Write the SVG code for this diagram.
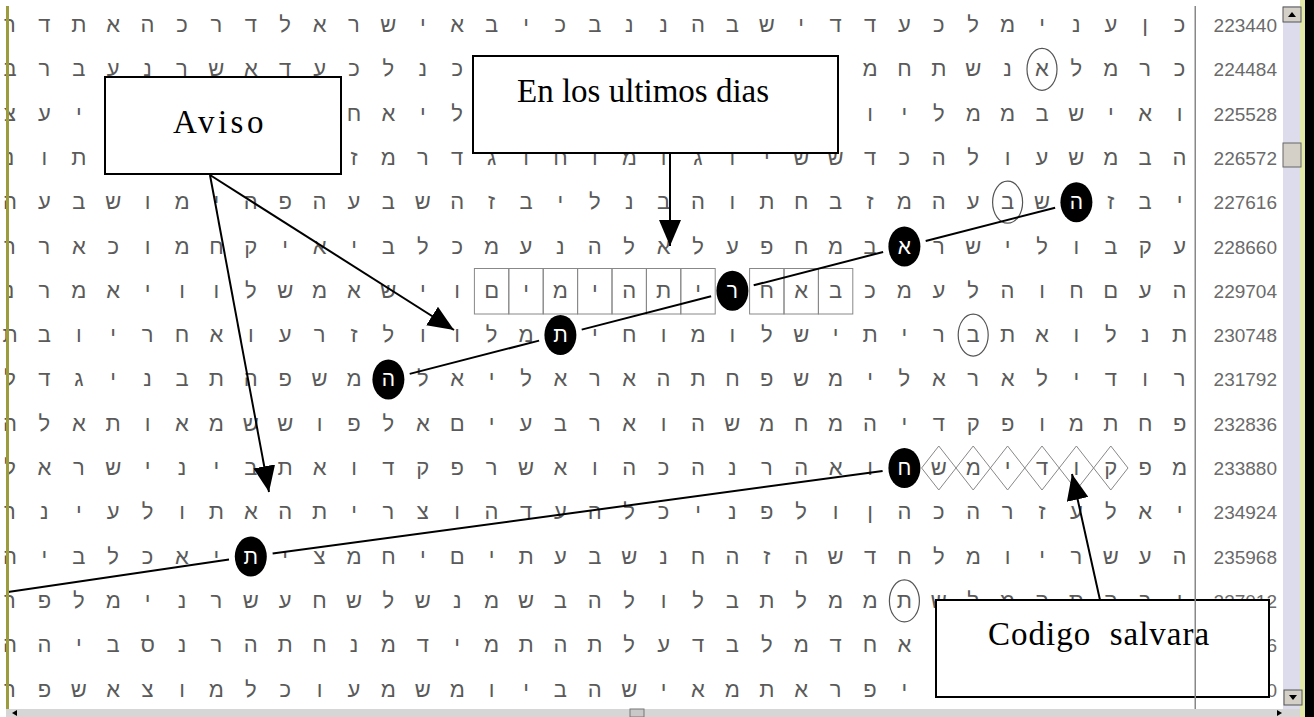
<svg xmlns="http://www.w3.org/2000/svg" width="1314" height="717" viewBox="0 0 1314 717">
<style>
.g{font-family:"Liberation Sans","DejaVu Sans",sans-serif;font-size:22px;fill:#5a5a5a;text-anchor:middle}
.w{font-family:"Liberation Sans","DejaVu Sans",sans-serif;font-size:21px;fill:#fff;text-anchor:middle}
.lab{font-family:"Liberation Sans","DejaVu Sans",sans-serif;font-size:19px;fill:#6a6a6a;text-anchor:end}
.cap{font-family:"Liberation Serif","DejaVu Serif",serif;font-size:33px;fill:#000}
.box{fill:#fff;stroke:#000;stroke-width:2}
.cell{fill:none;stroke:#888;stroke-width:1}
.ring{fill:none;stroke:#555;stroke-width:1.2}
.dot{fill:#000}
.ln{stroke:#000;stroke-width:2;fill:none}
.arr{stroke:#000;stroke-width:2;fill:none;marker-end:url(#ah)}
</style>
<defs>
<marker id="ah" viewBox="0 0 26 22" refX="26" refY="11" markerWidth="26" markerHeight="22" markerUnits="userSpaceOnUse" orient="auto"><path d="M0,0 L26,11 L0,22 z" fill="#000"/></marker>
</defs>
<rect width="1314" height="717" fill="#fff"/>
<g id="grid">
<g class="g" transform="translate(0,32)"><text x="10">ר</text><text x="44.4">ד</text><text x="78.8">ת</text><text x="113.2">א</text><text x="147.6">ה</text><text x="182">כ</text><text x="216.4">ר</text><text x="250.8">ד</text><text x="285.2">ל</text><text x="319.6">א</text><text x="354">ר</text><text x="388.4">ש</text><text x="422.8">י</text><text x="457.2">א</text><text x="491.6">ב</text><text x="526">י</text><text x="560.4">כ</text><text x="594.8">ב</text><text x="629.2">נ</text><text x="663.6">נ</text><text x="698">ה</text><text x="732.4">ב</text><text x="766.8">ש</text><text x="801.2">י</text><text x="835.6">ד</text><text x="870">ד</text><text x="904.4">ע</text><text x="938.8">כ</text><text x="973.2">ל</text><text x="1007.6">מ</text><text x="1042">י</text><text x="1076.4">נ</text><text x="1110.8">ע</text><text x="1145.2">ן</text><text x="1179.6">כ</text></g>
<g class="g" transform="translate(0,76.3)"><text x="10">ב</text><text x="44.4">ר</text><text x="78.8">ב</text><text x="113.2">ע</text><text x="147.6">נ</text><text x="182">ר</text><text x="216.4">ש</text><text x="250.8">א</text><text x="285.2">ד</text><text x="319.6">ע</text><text x="354">כ</text><text x="388.4">ל</text><text x="422.8">נ</text><text x="457.2">כ</text><text x="870">מ</text><text x="904.4">ח</text><text x="938.8">ת</text><text x="973.2">ש</text><text x="1007.6">נ</text><text x="1042">א</text><text x="1076.4">ל</text><text x="1110.8">מ</text><text x="1145.2">ר</text><text x="1179.6">כ</text></g>
<g class="g" transform="translate(0,120.6)"><text x="10">צ</text><text x="44.4">ע</text><text x="78.8">י</text><text x="354">ח</text><text x="388.4">א</text><text x="422.8">י</text><text x="457.2">ל</text><text x="870">ו</text><text x="904.4">י</text><text x="938.8">ל</text><text x="973.2">מ</text><text x="1007.6">מ</text><text x="1042">ב</text><text x="1076.4">ש</text><text x="1110.8">י</text><text x="1145.2">א</text><text x="1179.6">ו</text></g>
<g class="g" transform="translate(0,164.9)"><text x="10">נ</text><text x="44.4">ו</text><text x="78.8">ת</text><text x="354">ז</text><text x="388.4">מ</text><text x="422.8">ר</text><text x="457.2">ד</text><text x="491.6">ג</text><text x="526">ו</text><text x="560.4">ח</text><text x="594.8">ו</text><text x="629.2">מ</text><text x="663.6">ו</text><text x="698">ג</text><text x="732.4">ו</text><text x="766.8">י</text><text x="801.2">ש</text><text x="835.6">ש</text><text x="870">ד</text><text x="904.4">כ</text><text x="938.8">ה</text><text x="973.2">ל</text><text x="1007.6">ו</text><text x="1042">ע</text><text x="1076.4">ש</text><text x="1110.8">מ</text><text x="1145.2">ב</text><text x="1179.6">ה</text></g>
<g class="g" transform="translate(0,209.2)"><text x="10">ה</text><text x="44.4">ע</text><text x="78.8">ב</text><text x="113.2">ש</text><text x="147.6">ו</text><text x="182">מ</text><text x="216.4">י</text><text x="250.8">ה</text><text x="285.2">פ</text><text x="319.6">ה</text><text x="354">ע</text><text x="388.4">ב</text><text x="422.8">ש</text><text x="457.2">ה</text><text x="491.6">ז</text><text x="526">ב</text><text x="560.4">י</text><text x="594.8">ל</text><text x="629.2">נ</text><text x="663.6">ב</text><text x="698">ה</text><text x="732.4">ו</text><text x="766.8">ת</text><text x="801.2">ח</text><text x="835.6">ב</text><text x="870">ז</text><text x="904.4">מ</text><text x="938.8">ה</text><text x="973.2">ע</text><text x="1007.6">ב</text><text x="1042">ש</text><text x="1110.8">ז</text><text x="1145.2">ב</text><text x="1179.6">י</text></g>
<g class="g" transform="translate(0,253.5)"><text x="10">ר</text><text x="44.4">ר</text><text x="78.8">א</text><text x="113.2">כ</text><text x="147.6">ו</text><text x="182">מ</text><text x="216.4">ח</text><text x="250.8">ק</text><text x="285.2">י</text><text x="319.6">א</text><text x="354">י</text><text x="388.4">ב</text><text x="422.8">ל</text><text x="457.2">כ</text><text x="491.6">מ</text><text x="526">ע</text><text x="560.4">נ</text><text x="594.8">ה</text><text x="629.2">ל</text><text x="663.6">א</text><text x="698">ל</text><text x="732.4">ע</text><text x="766.8">פ</text><text x="801.2">ח</text><text x="835.6">מ</text><text x="870">ב</text><text x="938.8">ר</text><text x="973.2">ש</text><text x="1007.6">י</text><text x="1042">ל</text><text x="1076.4">ו</text><text x="1110.8">ב</text><text x="1145.2">ק</text><text x="1179.6">ע</text></g>
<g class="g" transform="translate(0,297.8)"><text x="10">נ</text><text x="44.4">ר</text><text x="78.8">מ</text><text x="113.2">א</text><text x="147.6">י</text><text x="182">ו</text><text x="216.4">ו</text><text x="250.8">ל</text><text x="285.2">ש</text><text x="319.6">מ</text><text x="354">א</text><text x="388.4">ש</text><text x="422.8">י</text><text x="457.2">ו</text><text x="491.6">ם</text><text x="526">י</text><text x="560.4">מ</text><text x="594.8">י</text><text x="629.2">ה</text><text x="663.6">ת</text><text x="698">י</text><text x="766.8">ח</text><text x="801.2">א</text><text x="835.6">ב</text><text x="870">כ</text><text x="904.4">מ</text><text x="938.8">ע</text><text x="973.2">ל</text><text x="1007.6">ה</text><text x="1042">ו</text><text x="1076.4">ח</text><text x="1110.8">ם</text><text x="1145.2">ע</text><text x="1179.6">ה</text></g>
<g class="g" transform="translate(0,342.1)"><text x="10">ת</text><text x="44.4">ב</text><text x="78.8">ו</text><text x="113.2">י</text><text x="147.6">ר</text><text x="182">ח</text><text x="216.4">א</text><text x="250.8">ו</text><text x="285.2">ע</text><text x="319.6">ר</text><text x="354">ז</text><text x="388.4">ל</text><text x="422.8">ו</text><text x="457.2">ו</text><text x="491.6">ל</text><text x="526">מ</text><text x="594.8">י</text><text x="629.2">ח</text><text x="663.6">ו</text><text x="698">מ</text><text x="732.4">ו</text><text x="766.8">ל</text><text x="801.2">ש</text><text x="835.6">י</text><text x="870">ת</text><text x="904.4">י</text><text x="938.8">ר</text><text x="973.2">ב</text><text x="1007.6">ת</text><text x="1042">א</text><text x="1076.4">ו</text><text x="1110.8">ל</text><text x="1145.2">נ</text><text x="1179.6">ת</text></g>
<g class="g" transform="translate(0,386.4)"><text x="10">ל</text><text x="44.4">ד</text><text x="78.8">ג</text><text x="113.2">י</text><text x="147.6">נ</text><text x="182">ב</text><text x="216.4">ת</text><text x="250.8">ה</text><text x="285.2">פ</text><text x="319.6">ש</text><text x="354">מ</text><text x="422.8">ל</text><text x="457.2">א</text><text x="491.6">י</text><text x="526">ל</text><text x="560.4">א</text><text x="594.8">ר</text><text x="629.2">א</text><text x="663.6">ה</text><text x="698">ת</text><text x="732.4">ח</text><text x="766.8">פ</text><text x="801.2">ש</text><text x="835.6">מ</text><text x="870">י</text><text x="904.4">ל</text><text x="938.8">א</text><text x="973.2">ר</text><text x="1007.6">א</text><text x="1042">ל</text><text x="1076.4">י</text><text x="1110.8">ד</text><text x="1145.2">ו</text><text x="1179.6">ר</text></g>
<g class="g" transform="translate(0,430.7)"><text x="10">ה</text><text x="44.4">ל</text><text x="78.8">א</text><text x="113.2">ת</text><text x="147.6">ו</text><text x="182">א</text><text x="216.4">מ</text><text x="250.8">ש</text><text x="285.2">ש</text><text x="319.6">ו</text><text x="354">פ</text><text x="388.4">ל</text><text x="422.8">א</text><text x="457.2">ם</text><text x="491.6">י</text><text x="526">ע</text><text x="560.4">ב</text><text x="594.8">ר</text><text x="629.2">א</text><text x="663.6">ו</text><text x="698">ה</text><text x="732.4">ש</text><text x="766.8">מ</text><text x="801.2">ח</text><text x="835.6">מ</text><text x="870">ה</text><text x="904.4">י</text><text x="938.8">ד</text><text x="973.2">ק</text><text x="1007.6">פ</text><text x="1042">ו</text><text x="1076.4">מ</text><text x="1110.8">ת</text><text x="1145.2">ח</text><text x="1179.6">פ</text></g>
<g class="g" transform="translate(0,475)"><text x="10">ל</text><text x="44.4">א</text><text x="78.8">ר</text><text x="113.2">ש</text><text x="147.6">י</text><text x="182">נ</text><text x="216.4">י</text><text x="250.8">ב</text><text x="285.2">ת</text><text x="319.6">א</text><text x="354">ו</text><text x="388.4">ד</text><text x="422.8">ק</text><text x="457.2">פ</text><text x="491.6">ר</text><text x="526">ש</text><text x="560.4">א</text><text x="594.8">ו</text><text x="629.2">ה</text><text x="663.6">כ</text><text x="698">ה</text><text x="732.4">נ</text><text x="766.8">ר</text><text x="801.2">ה</text><text x="835.6">א</text><text x="870">ו</text><text x="938.8">ש</text><text x="973.2">מ</text><text x="1007.6">י</text><text x="1042">ד</text><text x="1076.4">ו</text><text x="1110.8">ק</text><text x="1145.2">פ</text><text x="1179.6">מ</text></g>
<g class="g" transform="translate(0,519.3)"><text x="10">ר</text><text x="44.4">נ</text><text x="78.8">י</text><text x="113.2">ע</text><text x="147.6">ל</text><text x="182">ו</text><text x="216.4">ת</text><text x="250.8">א</text><text x="285.2">ה</text><text x="319.6">ת</text><text x="354">י</text><text x="388.4">ר</text><text x="422.8">צ</text><text x="457.2">ו</text><text x="491.6">ה</text><text x="526">ד</text><text x="560.4">ע</text><text x="594.8">ה</text><text x="629.2">ל</text><text x="663.6">כ</text><text x="698">י</text><text x="732.4">נ</text><text x="766.8">פ</text><text x="801.2">ל</text><text x="835.6">ו</text><text x="870">ן</text><text x="904.4">ה</text><text x="938.8">כ</text><text x="973.2">ה</text><text x="1007.6">ר</text><text x="1042">ז</text><text x="1076.4">ע</text><text x="1110.8">ל</text><text x="1145.2">א</text><text x="1179.6">י</text></g>
<g class="g" transform="translate(0,563.6)"><text x="10">ה</text><text x="44.4">י</text><text x="78.8">ב</text><text x="113.2">ל</text><text x="147.6">כ</text><text x="182">א</text><text x="216.4">י</text><text x="285.2">י</text><text x="319.6">צ</text><text x="354">מ</text><text x="388.4">ח</text><text x="422.8">י</text><text x="457.2">ם</text><text x="491.6">י</text><text x="526">ת</text><text x="560.4">ע</text><text x="594.8">ב</text><text x="629.2">ש</text><text x="663.6">נ</text><text x="698">ח</text><text x="732.4">ה</text><text x="766.8">ז</text><text x="801.2">ה</text><text x="835.6">ש</text><text x="870">ד</text><text x="904.4">ח</text><text x="938.8">ל</text><text x="973.2">מ</text><text x="1007.6">ו</text><text x="1042">י</text><text x="1076.4">ר</text><text x="1110.8">ש</text><text x="1145.2">ע</text><text x="1179.6">ה</text></g>
<g class="g" transform="translate(0,607.9)"><text x="10">ר</text><text x="44.4">פ</text><text x="78.8">ל</text><text x="113.2">מ</text><text x="147.6">י</text><text x="182">נ</text><text x="216.4">ר</text><text x="250.8">ש</text><text x="285.2">ע</text><text x="319.6">ח</text><text x="354">ש</text><text x="388.4">ל</text><text x="422.8">ש</text><text x="457.2">נ</text><text x="491.6">מ</text><text x="526">ש</text><text x="560.4">ב</text><text x="594.8">ה</text><text x="629.2">ל</text><text x="663.6">ו</text><text x="698">ל</text><text x="732.4">ב</text><text x="766.8">ת</text><text x="801.2">ל</text><text x="835.6">מ</text><text x="870">מ</text><text x="904.4">ת</text><text x="938.8">ש</text><text x="973.2">ל</text><text x="1007.6">מ</text><text x="1042">ה</text><text x="1076.4">ת</text><text x="1110.8">ה</text><text x="1145.2">ב</text><text x="1179.6">ו</text></g>
<g class="g" transform="translate(0,652.2)"><text x="10">ה</text><text x="44.4">ה</text><text x="78.8">י</text><text x="113.2">ב</text><text x="147.6">ס</text><text x="182">נ</text><text x="216.4">ר</text><text x="250.8">ה</text><text x="285.2">ת</text><text x="319.6">ח</text><text x="354">נ</text><text x="388.4">מ</text><text x="422.8">ד</text><text x="457.2">י</text><text x="491.6">מ</text><text x="526">ת</text><text x="560.4">ה</text><text x="594.8">ת</text><text x="629.2">ל</text><text x="663.6">ע</text><text x="698">ד</text><text x="732.4">ב</text><text x="766.8">ל</text><text x="801.2">מ</text><text x="835.6">ד</text><text x="870">ח</text><text x="904.4">א</text></g>
<g class="g" transform="translate(0,696.5)"><text x="10">ר</text><text x="44.4">פ</text><text x="78.8">ש</text><text x="113.2">א</text><text x="147.6">צ</text><text x="182">ו</text><text x="216.4">מ</text><text x="250.8">ל</text><text x="285.2">כ</text><text x="319.6">ו</text><text x="354">ע</text><text x="388.4">מ</text><text x="422.8">ש</text><text x="457.2">מ</text><text x="491.6">ו</text><text x="526">י</text><text x="560.4">ב</text><text x="594.8">ה</text><text x="629.2">ש</text><text x="663.6">י</text><text x="698">א</text><text x="732.4">מ</text><text x="766.8">ת</text><text x="801.2">א</text><text x="835.6">ר</text><text x="870">פ</text><text x="904.4">י</text></g>
</g>
<g id="labels">
<text class="lab" x="1277" y="32">223440</text>
<text class="lab" x="1277" y="76.3">224484</text>
<text class="lab" x="1277" y="120.6">225528</text>
<text class="lab" x="1277" y="164.9">226572</text>
<text class="lab" x="1277" y="209.2">227616</text>
<text class="lab" x="1277" y="253.5">228660</text>
<text class="lab" x="1277" y="297.8">229704</text>
<text class="lab" x="1277" y="342.1">230748</text>
<text class="lab" x="1277" y="386.4">231792</text>
<text class="lab" x="1277" y="430.7">232836</text>
<text class="lab" x="1277" y="475">233880</text>
<text class="lab" x="1277" y="519.3">234924</text>
<text class="lab" x="1277" y="563.6">235968</text>
<text class="lab" x="1277" y="607.9">237012</text>
<text class="lab" x="1277" y="652.2">238056</text>
<text class="lab" x="1277" y="696.5">239100</text>
</g>
<g id="cells">
<rect class="cell" x="474.4" y="268.5" width="34.4" height="45.5"/>
<rect class="cell" x="508.8" y="268.5" width="34.4" height="45.5"/>
<rect class="cell" x="543.2" y="268.5" width="34.4" height="45.5"/>
<rect class="cell" x="577.6" y="268.5" width="34.4" height="45.5"/>
<rect class="cell" x="612" y="268.5" width="34.4" height="45.5"/>
<rect class="cell" x="646.4" y="268.5" width="34.4" height="45.5"/>
<rect class="cell" x="680.8" y="268.5" width="34.4" height="45.5"/>
<rect class="cell" x="749.6" y="268.5" width="34.4" height="45.5"/>
<rect class="cell" x="784" y="268.5" width="34.4" height="45.5"/>
<rect class="cell" x="818.4" y="268.5" width="34.4" height="45.5"/>
<path class="cell" d="M921.6,468 L938.8,446 L956,468 L938.8,490 Z M956,468 L973.2,446 L990.4,468 L973.2,490 Z M990.4,468 L1007.6,446 L1024.8,468 L1007.6,490 Z M1024.8,468 L1042,446 L1059.2,468 L1042,490 Z M1059.2,468 L1076.4,446 L1093.6,468 L1076.4,490 Z M1093.6,468 L1110.8,446 L1128,468 L1110.8,490 Z"/>
<ellipse class="ring" cx="1042" cy="69.3" rx="15" ry="21"/>
<ellipse class="ring" cx="1007.6" cy="202.2" rx="15" ry="21"/>
<ellipse class="ring" cx="973.2" cy="335.1" rx="15" ry="21"/>
<ellipse class="ring" cx="904.4" cy="600.9" rx="15" ry="21"/>
</g>
<g id="connectors">
<line class="ln" x1="409.7" y1="373.9" x2="539.1" y2="340.6"/>
<line class="ln" x1="581.7" y1="329.6" x2="711.1" y2="296.3"/>
<line class="ln" x1="753.7" y1="285.3" x2="883.1" y2="252"/>
<line class="ln" x1="925.7" y1="241" x2="1055.1" y2="207.7"/>
<line class="ln" x1="882.6" y1="471" x2="272.6" y2="553.6"/>
<line class="ln" x1="229" y1="559.6" x2="8" y2="592"/>
<line class="arr" x1="210" y1="175" x2="454" y2="330"/>
<line class="arr" x1="210" y1="175" x2="269" y2="492"/>
<line class="arr" x1="670" y1="153" x2="670" y2="246"/>
<line class="arr" x1="1100" y1="600" x2="1072" y2="474"/>
</g>
<g id="marked">
<ellipse class="dot" cx="1076.4" cy="202.2" rx="16" ry="20"/><text class="w" x="1076.4" y="209.2">ה</text>
<ellipse class="dot" cx="904.4" cy="246.5" rx="16" ry="20"/><text class="w" x="904.4" y="253.5">א</text>
<ellipse class="dot" cx="732.4" cy="290.8" rx="16" ry="20"/><text class="w" x="732.4" y="297.8">ר</text>
<ellipse class="dot" cx="560.4" cy="335.1" rx="16" ry="20"/><text class="w" x="560.4" y="342.1">ת</text>
<ellipse class="dot" cx="388.4" cy="379.4" rx="16" ry="20"/><text class="w" x="388.4" y="386.4">ה</text>
<ellipse class="dot" cx="904.4" cy="468" rx="16" ry="20"/><text class="w" x="904.4" y="475">ח</text>
<ellipse class="dot" cx="250.8" cy="556.6" rx="16" ry="20"/><text class="w" x="250.8" y="563.6">ת</text>
</g>
<g id="aviso">
<rect class="box" x="105" y="77" width="236" height="97"/>
<text class="cap" x="173" y="132.7" letter-spacing="3.5">Aviso</text>
</g>
<g id="ultimos">
<rect class="box" x="473" y="56" width="365" height="97"/>
<text class="cap" x="517" y="102">En los ultimos dias</text>
</g>
<g id="codigo">
<rect class="box" x="936" y="600" width="333" height="97"/>
<text class="cap" x="988" y="645" letter-spacing="1" xml:space="preserve" style="white-space:pre">Codigo  salvara</text>
</g>
<g id="window">
<rect x="6" y="6" width="3" height="704" fill="#9c9c3c"/>
<rect x="1194.5" y="6" width="1.5" height="704" fill="#888"/>
<rect x="1283" y="6" width="17" height="704" fill="#dcdcec"/>
<rect x="1300" y="0" width="5" height="717" fill="#e2e8a8"/>
<rect x="1305" y="0" width="9" height="717" fill="#000"/>
<rect x="1283" y="7" width="18" height="15" fill="#d4d0c8" stroke="#555" stroke-width="1"/>
<path d="M1288,17 L1292,12 L1296,17 Z" fill="#000"/>
<rect x="1283" y="143" width="18" height="24" fill="#d4d0c8" stroke="#666" stroke-width="1"/>
<rect x="1284" y="690" width="18" height="15" fill="#d4d0c8" stroke="#555" stroke-width="1"/>
<path d="M1289,695 L1293,700 L1297,695 Z" fill="#000"/>
<rect x="6" y="709" width="1294" height="8" fill="#d6d6d6"/>
<path d="M12,713 L17,710 L17,716 Z" fill="#000"/>
<rect x="630" y="709" width="14" height="8" fill="#c8c8c8" stroke="#777" stroke-width="1"/>
<path d="M1277,710 L1282,713 L1277,716 Z" fill="#000"/>
</g>
</svg>
